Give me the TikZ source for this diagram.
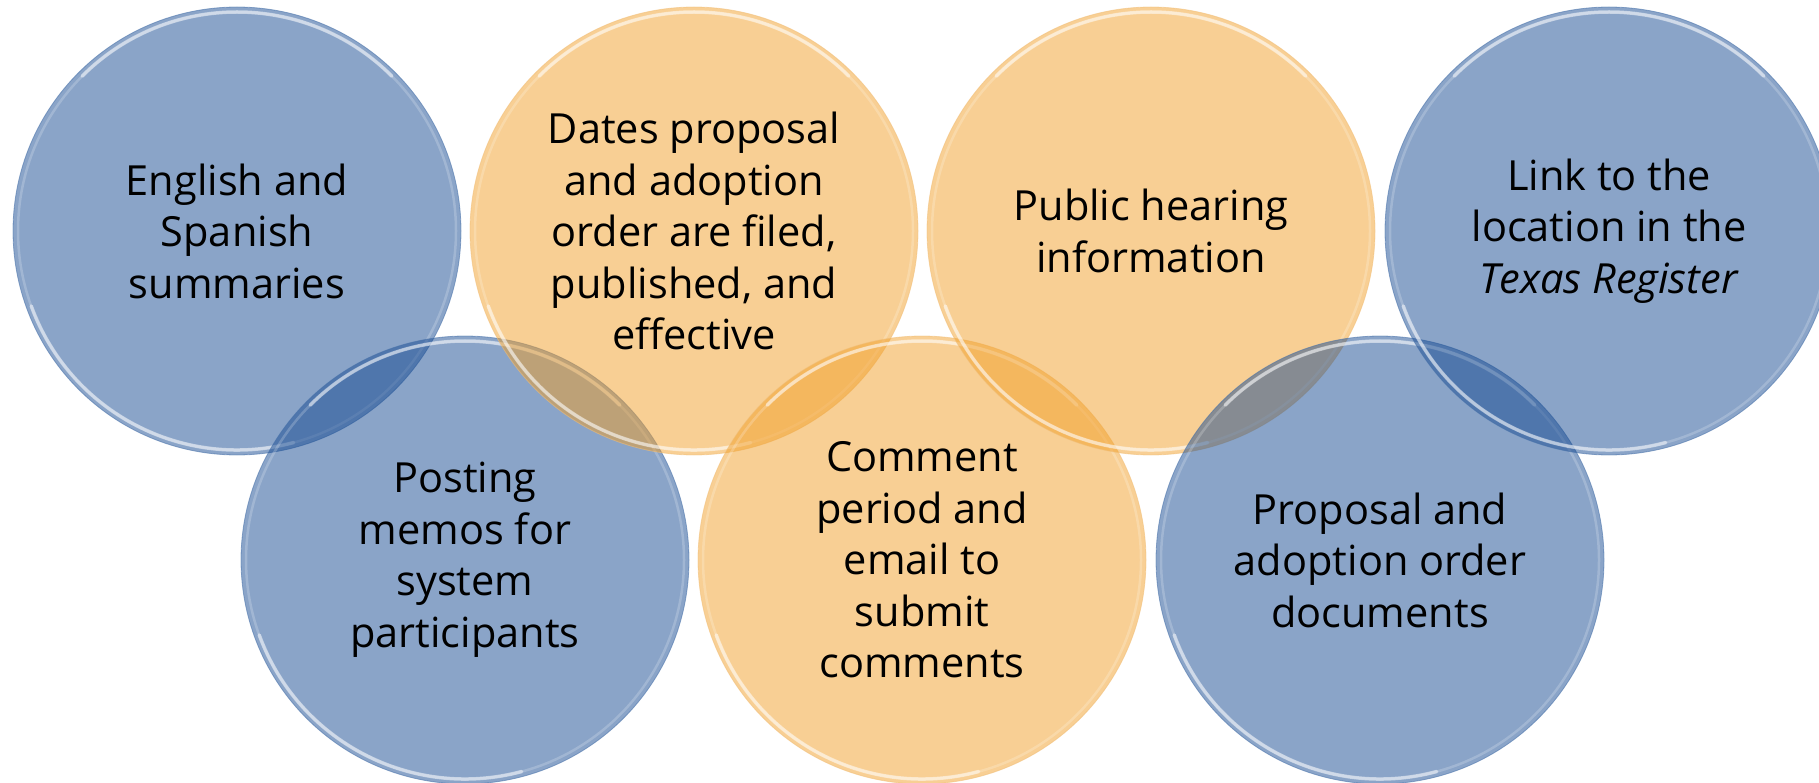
\documentclass[tikz,border=0pt]{standalone}
\usepackage{fontspec}
\setmainfont{Open Sans}
\usetikzlibrary{calc}
\definecolor{bluebase}{RGB}{21,73,145}
\definecolor{blueedge}{RGB}{70,112,168}
\definecolor{orangebase}{RGB}{241,159,41}
\definecolor{orangeedge}{RGB}{240,190,120}
\begin{document}
\begin{tikzpicture}[x=1pt,y=-1pt]
\tikzset{
  disc/.style={circle, minimum size=448pt, inner sep=0pt, text opacity=1, text=black,
    align=center, font=\fontsize{41.5}{51.5}\selectfont},
  bluedisc/.style={disc, fill=bluebase, fill opacity=0.5, draw=blueedge, draw opacity=0.55, line width=0.8pt},
  orangedisc/.style={disc, fill=orangebase, fill opacity=0.5, draw=orangeedge, draw opacity=0.55, line width=0.8pt},
  rimring/.style={draw=white, line width=2.5pt, draw opacity=0.2},
  rimarc/.style={draw=white, line width=3.5pt, draw opacity=0.5, line cap=round},
}
\useasboundingbox (0,0) rectangle (1819,783);
\newcommand{\glossrim}[1]{%
  \draw[rimring] (#1.center) circle[radius=219pt];
  \draw[rimarc] ($(#1.center)+(45:219pt)$) arc[start angle=45, end angle=135, radius=219pt];
  \draw[rimarc] ($(#1.center)+(200:219pt)$) arc[start angle=200, end angle=285, radius=219pt];
}
\node[bluedisc] (c1) at (237,231) {English and\\Spanish\\summaries};
\glossrim{c1}
\node[bluedisc] (c5) at (465,560) {Posting\\memos for\\system\\participants};
\glossrim{c5}
\node[orangedisc] (c2) at (694,231) {Dates proposal\\and adoption\\order are filed,\\published, and\\effective};
\glossrim{c2}
\node[orangedisc] (c6) at (922,560) {Comment\\period and\\email to\\submit\\comments};
\glossrim{c6}
\node[orangedisc] (c3) at (1151,231) {Public hearing\\information};
\glossrim{c3}
\node[bluedisc] (c7) at (1380,560) {Proposal and\\adoption order\\documents};
\glossrim{c7}
\node[bluedisc] (c4) at (1609,231) {Link to the\\location in the\\\textit{Texas Register}};
\glossrim{c4}
\end{tikzpicture}
\end{document}
